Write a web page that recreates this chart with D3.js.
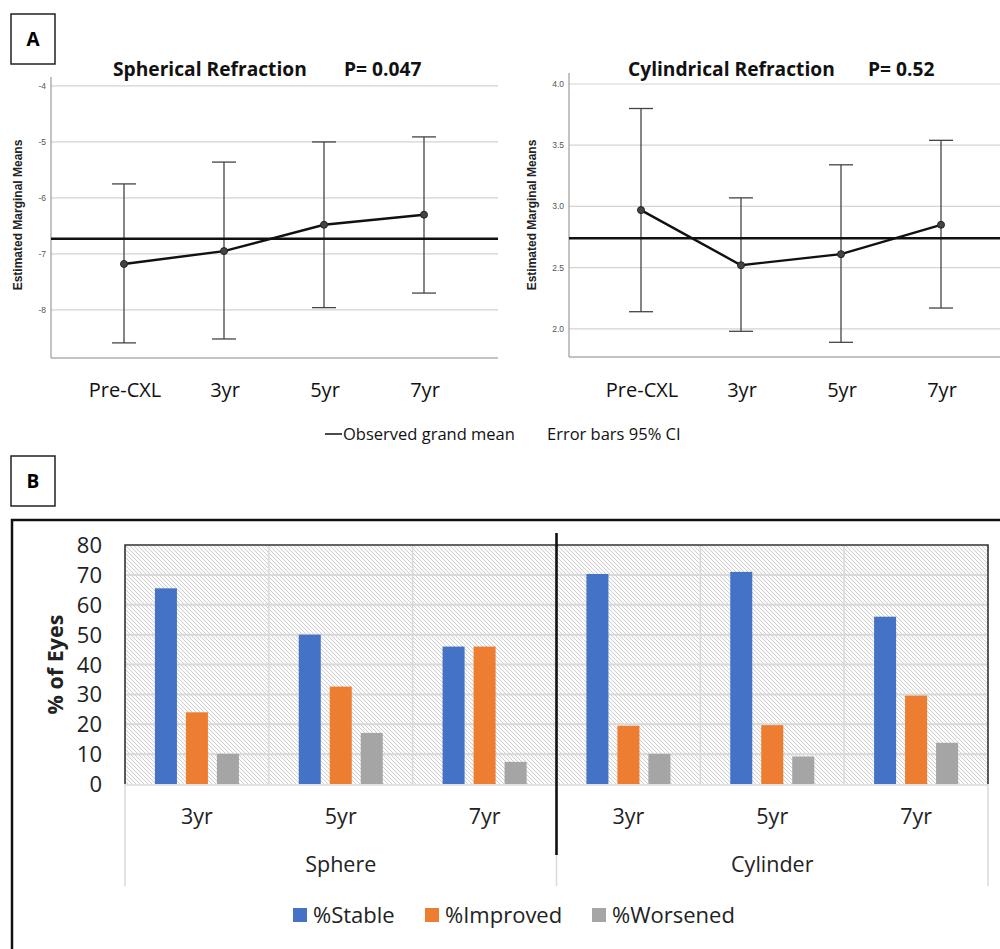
<!DOCTYPE html>
<html>
<head>
<meta charset="utf-8">
<script src="https://d3js.org/d3.v7.min.js"></script>
<style>
  body { margin: 0; background: #fff; }
  svg text { font-family: "Open Sans", Lato, sans-serif; }
</style>
</head>
<body>
<svg id="fig" width="1000" height="949"></svg>
<script>
  // panel A data (estimated marginal means with 95% CI)
  const timepoints = ["Pre-CXL", "3yr", "5yr", "7yr"];
  const sphMean = [-7.18, -6.95, -6.48, -6.30];
  const sphLow = [-8.59, -8.52, -7.96, -7.70];
  const sphHigh = [-5.75, -5.36, -5.00, -4.91];
  const sphGrand = -6.73;
  const sphTicks = [-4, -5, -6, -7, -8];
  const cylMean = [2.97, 2.52, 2.61, 2.85];
  const cylLow = [2.14, 1.98, 1.89, 2.17];
  const cylHigh = [3.80, 3.07, 3.34, 3.54];
  const cylGrand = 2.74;
  const cylTicks = [4.0, 3.5, 3.0, 2.5, 2.0];

  // panel B data (% of eyes)
  const groups = ["Sphere", "Cylinder"];
  const years = ["3yr", "5yr", "7yr"];
  const seriesNames = ["%Stable", "%Improved", "%Worsened"];
  const stable = [65.5, 50, 46, 70.3, 71, 56];
  const improved = [24, 32.6, 46, 19.5, 19.7, 29.6];
  const worsened = [10.1, 17.1, 7.4, 10.1, 9.2, 13.8];
  const colors = ["#4472C4", "#ED7D31", "#A5A5A5"];

  const svg = d3.select("#fig");

  // panel letter boxes
  function letterBox(x, y, t) {
    svg.append("rect").attr("x", x).attr("y", y).attr("width", 44).attr("height", 50)
      .attr("fill", "none").attr("stroke", "#222").attr("stroke-width", 1.5);
    svg.append("text").attr("x", x + 22).attr("y", y + 32).attr("text-anchor", "middle")
      .attr("font-size", 19).attr("font-weight", "bold").text(t);
  }
  letterBox(11, 14, "A");
  letterBox(11, 456, "B");

  // one SPSS style line plot
  function meansPlot(opt) {
    const y = d3.scaleLinear().domain(opt.domain).range([opt.bottom, opt.top]);
    const x = d3.scalePoint().domain(timepoints).range(opt.xr);
    const g = svg.append("g");

    g.selectAll(".grid").data(opt.ticks).join("line")
      .attr("x1", opt.left).attr("x2", opt.right)
      .attr("y1", d => y(d)).attr("y2", d => y(d))
      .attr("stroke", "#d4d4d4").attr("stroke-width", 1.2);
    g.selectAll(".tick").data(opt.ticks).join("text")
      .attr("x", opt.left - 5).attr("y", d => y(d) + 3)
      .attr("text-anchor", "end").attr("font-size", 8.5).attr("fill", "#555")
      .style("font-family", "Liberation Sans, Arial")
      .text(d => opt.fmt(d));

    g.append("line").attr("x1", opt.left).attr("x2", opt.left)
      .attr("y1", opt.top).attr("y2", opt.bottom).attr("stroke", "#888");
    g.append("line").attr("x1", opt.left).attr("x2", opt.right)
      .attr("y1", opt.bottom).attr("y2", opt.bottom).attr("stroke", "#888");

    g.append("text")
      .attr("transform", `translate(${opt.labX},215) rotate(-90)`)
      .attr("text-anchor", "middle").attr("font-size", 12).attr("font-weight", "bold")
      .attr("fill", "#222").style("font-family", "Liberation Sans, Arial")
      .text("Estimated Marginal Means");

    // error bars
    timepoints.forEach((t, i) => {
      const cx = x(t);
      g.append("line").attr("x1", cx).attr("x2", cx)
        .attr("y1", y(opt.high[i])).attr("y2", y(opt.low[i]))
        .attr("stroke", "#444").attr("stroke-width", 1.3);
      [opt.high[i], opt.low[i]].forEach(v => {
        g.append("line").attr("x1", cx - 12).attr("x2", cx + 12)
          .attr("y1", y(v)).attr("y2", y(v))
          .attr("stroke", "#444").attr("stroke-width", 1.3);
      });
    });

    // grand mean
    g.append("line").attr("x1", opt.left).attr("x2", opt.right)
      .attr("y1", y(opt.grand)).attr("y2", y(opt.grand))
      .attr("stroke", "#111").attr("stroke-width", 2.6);

    const line = d3.line().x((d, i) => x(timepoints[i])).y(d => y(d));
    g.append("path").attr("d", line(opt.mean)).attr("fill", "none")
      .attr("stroke", "#111").attr("stroke-width", 2.4);
    g.selectAll(".pt").data(opt.mean).join("circle")
      .attr("cx", (d, i) => x(timepoints[i])).attr("cy", d => y(d)).attr("r", 3.5)
      .attr("fill", "#444").attr("stroke", "#222");

    g.selectAll(".xl").data(timepoints).join("text")
      .attr("x", d => x(d) + 1).attr("y", 397).attr("text-anchor", "middle")
      .attr("font-size", 20).attr("fill", "#111").text(d => d);

    const title = g.append("text").attr("y", 76).attr("font-size", 19.2)
      .attr("font-weight", "bold").attr("fill", "#111");
    title.append("tspan").attr("x", opt.tx[0]).text(opt.title);
    title.append("tspan").attr("x", opt.tx[1]).text(opt.p);
  }

  meansPlot({
    domain: [-8.86, -3.84], top: 77, bottom: 358, left: 51, right: 498, labX: 22,
    xr: [124, 424], ticks: sphTicks, fmt: d => d3.format("d")(d).replace("−", "-"),
    mean: sphMean, low: sphLow, high: sphHigh, grand: sphGrand,
    title: "Spherical Refraction", p: "P= 0.047", tx: [113, 344]
  });
  meansPlot({
    domain: [1.77, 4.09], top: 73, bottom: 357, left: 569, right: 1000, labX: 536,
    xr: [641, 941], ticks: cylTicks, fmt: d3.format(".1f"),
    mean: cylMean, low: cylLow, high: cylHigh, grand: cylGrand,
    title: "Cylindrical Refraction", p: "P= 0.52", tx: [628, 868]
  });

  // shared legend for panel A
  svg.append("line").attr("x1", 325).attr("x2", 342).attr("y1", 434).attr("y2", 434)
    .attr("stroke", "#111").attr("stroke-width", 1.5);
  svg.append("text").attr("x", 343).attr("y", 440).attr("font-size", 16.5).attr("fill", "#111")
    .text("Observed grand mean");
  svg.append("text").attr("x", 547).attr("y", 440).attr("font-size", 16.5).attr("fill", "#111")
    .text("Error bars 95% CI");

  // ---- panel B ----
  svg.append("rect").attr("x", 12).attr("y", 520).attr("width", 1000).attr("height", 500)
    .attr("fill", "none").attr("stroke", "#111").attr("stroke-width", 2.5);

  const defs = svg.append("defs");
  const pat = defs.append("pattern").attr("id", "hatch").attr("patternUnits", "userSpaceOnUse")
    .attr("width", 4).attr("height", 4);
  pat.append("rect").attr("width", 4).attr("height", 4).attr("fill", "#fbfbfb");
  pat.append("path").attr("d", "M-1,-1 L5,5 M-1,3 L1,5 M3,-1 L5,1")
    .attr("stroke", "#cfcfcf").attr("stroke-width", 1);

  const L = 125, R = 988, T = 545, B = 784;
  const slots = [];
  groups.forEach(g => years.forEach(yv => slots.push(g + "|" + yv)));
  const x0 = d3.scaleBand().domain(slots).range([L, R]);
  const x1 = d3.scaleBand().domain(seriesNames).range([0, x0.bandwidth()])
    .paddingInner(0.29).paddingOuter(0.965);
  const yB = d3.scaleLinear().domain([0, 80]).range([B, T]);

  svg.append("rect").attr("x", L).attr("y", T).attr("width", R - L).attr("height", B - T)
    .attr("fill", "url(#hatch)");
  svg.selectAll(".hg").data(d3.range(10, 80, 10)).join("line")
    .attr("x1", L).attr("x2", R).attr("y1", d => yB(d)).attr("y2", d => yB(d))
    .attr("stroke", "#d9d9d9").attr("stroke-width", 2);
  svg.selectAll(".vg").data(slots.slice(1)).join("line")
    .attr("x1", d => x0(d)).attr("x2", d => x0(d)).attr("y1", T).attr("y2", B)
    .attr("stroke", "#d9d9d9").attr("stroke-width", 1.5);

  const seriesVals = [stable, improved, worsened];
  seriesVals.forEach((vals, s) => {
    svg.selectAll(".bar" + s).data(vals).join("rect")
      .attr("x", (d, i) => x0(slots[i]) + x1(seriesNames[s]))
      .attr("y", d => yB(d)).attr("width", x1.bandwidth())
      .attr("height", d => B - yB(d)).attr("fill", colors[s]);
  });

  // plot frame
  svg.append("path").attr("d", `M${L},${B} V${T} H${R} V${B}`)
    .attr("fill", "none").attr("stroke", "#333").attr("stroke-width", 1.6);
  svg.append("line").attr("x1", L).attr("x2", R).attr("y1", B + 1).attr("y2", B + 1)
    .attr("stroke", "#d9d9d9").attr("stroke-width", 1.5);
  [L, R].forEach(xx => {
    svg.append("line").attr("x1", xx).attr("x2", xx).attr("y1", B).attr("y2", 886)
      .attr("stroke", "#d9d9d9").attr("stroke-width", 1.5);
  });
  const mid = x0(slots[3]);
  svg.append("line").attr("x1", mid).attr("x2", mid).attr("y1", 855).attr("y2", 886)
    .attr("stroke", "#d9d9d9").attr("stroke-width", 1.5);
  svg.append("line").attr("x1", mid).attr("x2", mid).attr("y1", 533).attr("y2", 855)
    .attr("stroke", "#111").attr("stroke-width", 2.6);

  // y axis labels
  svg.selectAll(".yt").data(d3.range(0, 90, 10)).join("text")
    .attr("x", 102).attr("y", d => yB(d) + 8).attr("text-anchor", "end")
    .attr("font-size", 22).attr("fill", "#222").text(d => d);
  svg.append("text").attr("transform", `translate(63,${(T + B) / 2}) rotate(-90)`)
    .attr("text-anchor", "middle").attr("font-size", 21.5).attr("font-weight", "bold")
    .attr("fill", "#222").text("% of Eyes");

  // category labels
  svg.selectAll(".cl").data(slots).join("text")
    .attr("x", d => x0(d) + x0.bandwidth() / 2).attr("y", 824).attr("text-anchor", "middle")
    .attr("font-size", 21.5).attr("fill", "#222").text(d => d.split("|")[1]);
  svg.selectAll(".gl").data(groups).join("text")
    .attr("x", (d, i) => x0(slots[i * 3 + 1]) + x0.bandwidth() / 2).attr("y", 872)
    .attr("text-anchor", "middle").attr("font-size", 21.5).attr("fill", "#222").text(d => d);

  // legend
  const legX = [293, 425, 592];
  seriesNames.forEach((n, i) => {
    svg.append("rect").attr("x", legX[i]).attr("y", 908).attr("width", 14).attr("height", 14)
      .attr("fill", colors[i]);
    svg.append("text").attr("x", legX[i] + 20).attr("y", 923).attr("font-size", 22)
      .attr("fill", "#222").text(n);
  });
</script>
</body>
</html>
